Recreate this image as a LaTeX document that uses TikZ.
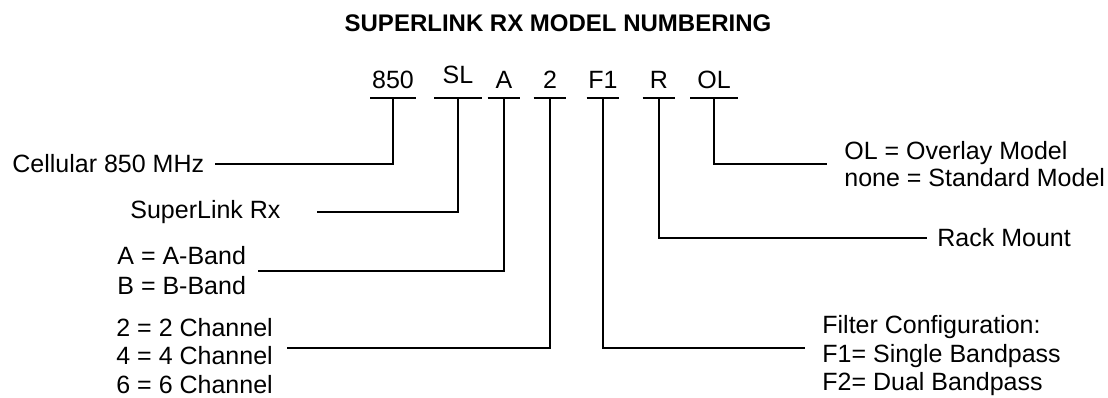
\documentclass[tikz,border=0pt]{standalone}
\usepackage{fontspec}
\setmainfont{Liberation Sans}

\begin{document}
\begin{tikzpicture}[x=0.5pt,y=-0.5pt,
  code/.style={anchor=south,minimum width=#1,inner xsep=0pt,inner ysep=4.5pt,text depth=0pt,font=\fontsize{12.5}{15}\selectfont},
  desc/.style={anchor=west,inner sep=0pt,align=left,font=\fontsize{12.5}{#1}\selectfont},
  lead/.style={line width=1pt}]
                                \useasboundingbox (0,0) rectangle (1108,397);
                                \node[font=\bfseries\fontsize{12}{14}\selectfont] (title) at (558,23) {SUPERLINK RX MODEL NUMBERING};

                                \node[code=22.5pt] (c850) at (393,98) {850};
                                \node[code=23.5pt,text depth=2.5pt] (cSL) at (458,98) {SL};
                                \node[code=16pt] (cA) at (504,98) {A};
                                \node[code=16pt] (c2) at (550,98) {2};
                                \node[code=16pt] (cF1) at (603,98) {F1};
                                \node[code=16pt] (cR) at (659,98) {R};
                                \node[code=23.5pt] (cOL) at (714,98) {OL};

                                \draw[lead] (c850.south west) -- (c850.south east);
                                \draw[lead] (cSL.south west) -- (cSL.south east);
                                \draw[lead] (cA.south west) -- (cA.south east);
                                \draw[lead] (c2.south west) -- (c2.south east);
                                \draw[lead] (cF1.south west) -- (cF1.south east);
                                \draw[lead] (cR.south west) -- (cR.south east);
                                \draw[lead] (cOL.south west) -- (cOL.south east);

                                \node[desc=15pt] (cell) at (12,164) {Cellular 850 MHz};
                                \node[desc=15pt] (slrx) at (130,212) {SuperLink Rx};
                                \node[desc=15pt] (band) at (117,271) {A = A-Band\\B = B-Band};
                                \node[desc=14.25pt] (chan) at (116,356) {2 = 2 Channel\\4 = 4 Channel\\6 = 6 Channel};
                                \node[desc=13.5pt] (olm) at (844,164) {OL = Overlay Model\\none = Standard Model};
                                \node[desc=15pt] (rack) at (937,238) {Rack Mount};
                                \node[desc=14.25pt] (filt) at (822,356) {Filter Configuration:\\F1= Single Bandpass\\F2= Dual Bandpass};

                                \draw[lead,shorten >=5pt] (c850.south) |- (cell.east);
                                \draw[lead,shorten >=18pt] (cSL.south) |- (slrx.east);
                                \draw[lead,shorten >=6pt] (cA.south) |- (band.east);
                                \draw[lead,shorten >=7pt] (c2.south) |- ([yshift=4pt]chan.east);
                                \draw[lead,shorten >=8.5pt] (cF1.south) |- ([yshift=4pt]filt.west);
                                \draw[lead,shorten >=5pt] (cR.south) |- (rack.west);
                                \draw[lead,shorten >=8.5pt] (cOL.south) |- (olm.west);
                            \end{tikzpicture}
\end{document}
